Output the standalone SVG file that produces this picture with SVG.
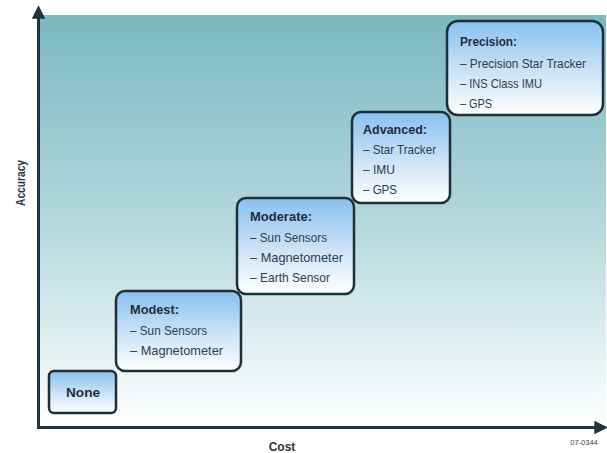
<svg xmlns="http://www.w3.org/2000/svg" width="607" height="453" viewBox="0 0 607 453">
<defs>
<linearGradient id="bg" x1="0" y1="0" x2="0" y2="1">
<stop offset="0" stop-color="#7ab8c0"/>
<stop offset="0.5" stop-color="#b3d8dc"/>
<stop offset="1" stop-color="#ffffff"/>
</linearGradient>
<linearGradient id="box" x1="0" y1="0" x2="0" y2="1">
<stop offset="0" stop-color="#88c0f0"/>
<stop offset="0.55" stop-color="#cde4f7"/>
<stop offset="1" stop-color="#ffffff"/>
</linearGradient>
<marker id="arr" viewBox="0 0 10 10" refX="2" refY="5" markerWidth="4.5" markerHeight="4.5" orient="auto" markerUnits="strokeWidth">
<path d="M0,0 L10,5 L0,10 Z" fill="#1f3340"/>
</marker>
</defs>
<style>
.box{fill:url(#box);stroke:#1f2f3a;stroke-width:2.5}
.t{font-family:"Liberation Sans",Arial,sans-serif;font-weight:bold;font-size:13.5px;fill:#1f2d3d}
.i{font-family:"Liberation Sans",Arial,sans-serif;font-size:13px;fill:#2d3d4f}
.ax{font-family:"Liberation Sans",Arial,sans-serif;font-weight:bold;font-size:12px;fill:#2a3440}
.axis{stroke:#1f3340;stroke-width:3;fill:none}
</style>
<rect x="40" y="15" width="566" height="411" fill="url(#bg)"/>
<g id="connectors">
<line class="axis" x1="38.5" y1="428" x2="38.5" y2="16" marker-end="url(#arr)"/>
<line class="axis" x1="37" y1="427.5" x2="597" y2="427.5" marker-end="url(#arr)"/>
</g>
<g id="none">
<rect class="box" x="49" y="371" width="67" height="42" rx="5"/>
<text class="t" x="83" y="397" text-anchor="middle" textLength="34" lengthAdjust="spacingAndGlyphs">None</text>
</g>
<g id="modest">
<rect class="box" x="116" y="291" width="125" height="80" rx="9"/>
<text class="t" x="130" y="314" textLength="49" lengthAdjust="spacingAndGlyphs">Modest:</text>
<text class="i" x="130" y="335" textLength="77" lengthAdjust="spacingAndGlyphs">– Sun Sensors</text>
<text class="i" x="130" y="355" textLength="93" lengthAdjust="spacingAndGlyphs">– Magnetometer</text>
</g>
<g id="moderate">
<rect class="box" x="237" y="198" width="117" height="96" rx="9"/>
<text class="t" x="250" y="221" textLength="62" lengthAdjust="spacingAndGlyphs">Moderate:</text>
<text class="i" x="250" y="242" textLength="77" lengthAdjust="spacingAndGlyphs">– Sun Sensors</text>
<text class="i" x="250" y="262" textLength="93" lengthAdjust="spacingAndGlyphs">– Magnetometer</text>
<text class="i" x="250" y="282" textLength="80" lengthAdjust="spacingAndGlyphs">– Earth Sensor</text>
</g>
<g id="advanced">
<rect class="box" x="352" y="112" width="98" height="91" rx="9"/>
<text class="t" x="363" y="134" textLength="64" lengthAdjust="spacingAndGlyphs">Advanced:</text>
<text class="i" x="363" y="154" textLength="73" lengthAdjust="spacingAndGlyphs">– Star Tracker</text>
<text class="i" x="363" y="174" textLength="32" lengthAdjust="spacingAndGlyphs">– IMU</text>
<text class="i" x="363" y="194" textLength="34" lengthAdjust="spacingAndGlyphs">– GPS</text>
</g>
<g id="precision">
<rect class="box" x="447" y="21" width="156" height="94" rx="11"/>
<text class="t" x="460" y="46" textLength="57" lengthAdjust="spacingAndGlyphs">Precision:</text>
<text class="i" x="460" y="68" textLength="126" lengthAdjust="spacingAndGlyphs">– Precision Star Tracker</text>
<text class="i" x="460" y="88" textLength="82" lengthAdjust="spacingAndGlyphs">– INS Class IMU</text>
<text class="i" x="460" y="108" textLength="32" lengthAdjust="spacingAndGlyphs">– GPS</text>
</g>
<text class="ax" x="282" y="451" text-anchor="middle">Cost</text>
<text class="ax" transform="translate(25,183) rotate(-90)" text-anchor="middle" textLength="46" lengthAdjust="spacingAndGlyphs">Accuracy</text>
<text x="584" y="445" text-anchor="middle" font-family="Liberation Sans, Arial, sans-serif" font-size="7.5" fill="#444">07-0344</text>
</svg>
